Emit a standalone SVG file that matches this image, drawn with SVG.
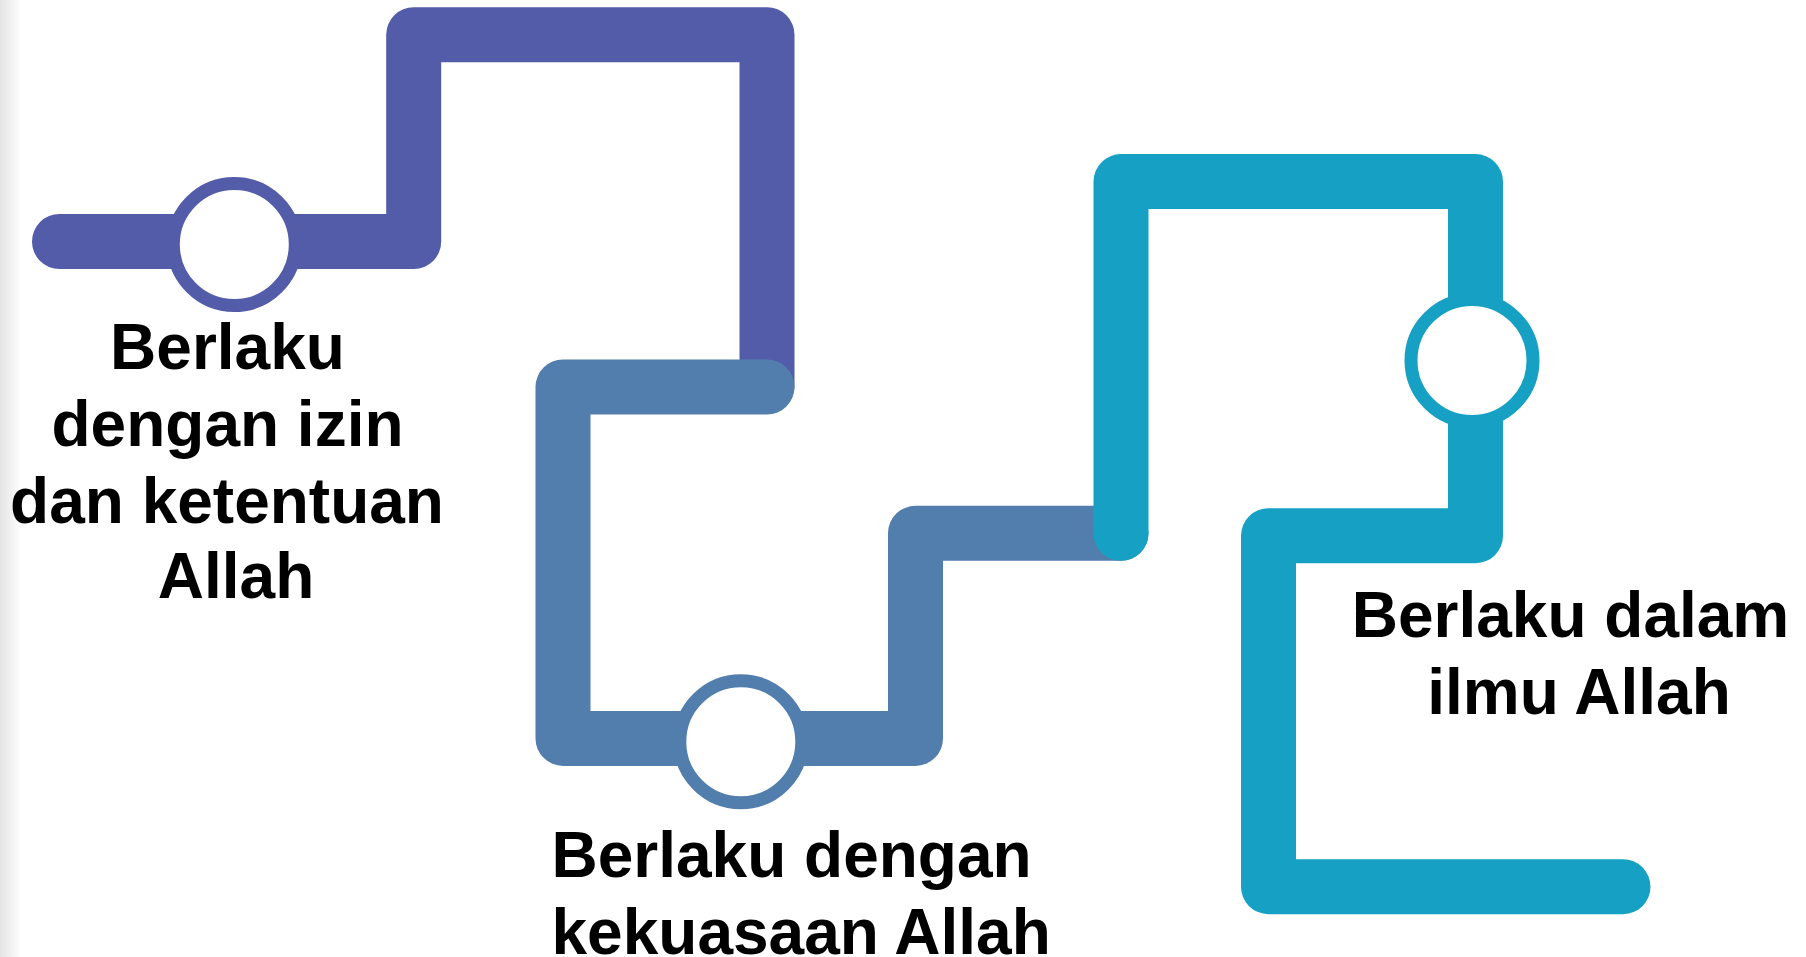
<svg xmlns="http://www.w3.org/2000/svg" width="1806" height="957" viewBox="0 0 1806 957">
  <style>
    .line { fill: none; stroke-width: 55; stroke-linecap: round; stroke-linejoin: round; }
    .ring { fill: #FFFFFF; stroke-width: 13; }
    .label { font-family: "Liberation Sans", Arial, sans-serif; font-weight: bold; font-size: 64px; fill: #000000; }
    .mid { text-anchor: middle; }
  </style>
  <defs>
    <linearGradient id="edge" x1="0" y1="0" x2="1" y2="0">
      <stop offset="0" stop-color="#E4E4E4"/>
      <stop offset="1" stop-color="#FFFFFF"/>
    </linearGradient>
  </defs>
  <rect x="0" y="0" width="1806" height="957" fill="#FFFFFF"/>
  <rect x="0" y="0" width="22" height="957" fill="url(#edge)"/>

  <g id="connectors">
    <path class="line" stroke="#525CA8" d="M 59.5,241.5 H 413.7 V 34.7 H 767 V 386"/>
    <path class="line" stroke="#517EAD" d="M 767,387 H 563 V 738.4 H 915.5 V 533.3 H 1121"/>
    <path class="line" stroke="#16A1C4" d="M 1121,533.3 V 181.6 H 1475.5 V 535.7 H 1268.5 V 886.7 H 1623"/>
  </g>

  <g id="node1">
    <circle class="ring" stroke="#525CA8" cx="234.3" cy="244.5" r="61"/>
    <text class="label mid" x="227.5" y="369.3">Berlaku</text>
    <text class="label mid" x="227.5" y="446">dengan izin</text>
    <text class="label mid" x="227" y="522.7">dan ketentuan</text>
    <text class="label mid" x="236" y="598.3">Allah</text>
  </g>

  <g id="node2">
    <circle class="ring" stroke="#517EAD" cx="740.8" cy="741.7" r="61"/>
    <text class="label" x="551.5" y="877.3">Berlaku dengan</text>
    <text class="label" x="551.5" y="954">kekuasaan Allah</text>
  </g>

  <g id="node3">
    <circle class="ring" stroke="#16A1C4" cx="1472" cy="360.4" r="61"/>
    <text class="label mid" x="1570.5" y="636.7">Berlaku dalam</text>
    <text class="label mid" x="1579" y="714">ilmu Allah</text>
  </g>
</svg>
